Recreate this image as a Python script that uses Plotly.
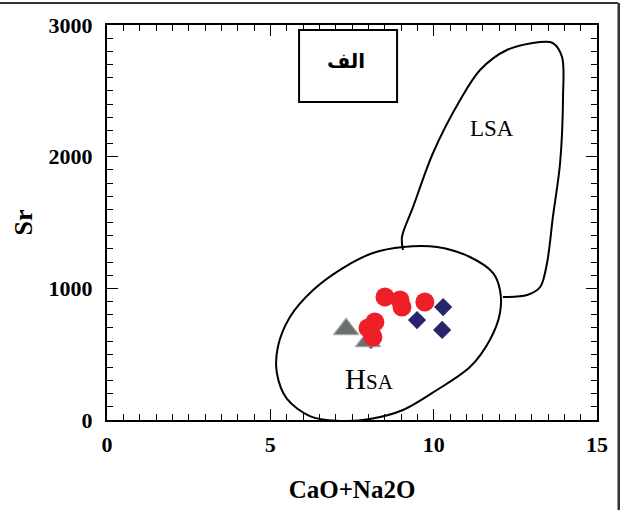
import plotly.graph_objects as go

# Sample compositions: CaO+Na2O (wt%) vs Sr (ppm)
circle_x = [8.51, 8.97, 9.03, 9.73, 8.20, 7.99, 8.14]
circle_y = [934, 911, 858, 896, 744, 699, 630]

diamond_x = [9.49, 10.29, 10.26, 8.08]
diamond_y = [759, 858, 684, 608]

triangle_x = [7.32, 7.99]
triangle_y = [690, 598]

# Field boundaries (HSA and LSA)
hsa_x = [9.06, 10.10, 11.11, 11.82, 12.03, 12.03, 11.72, 11.11, 10.10, 9.06,
         8.05, 7.04, 6.21, 5.51, 5.20, 5.23, 5.60, 6.31, 7.22, 8.14, 9.06]
hsa_y = [1314, 1314, 1238, 1116, 987, 813, 608, 402, 228, 76,
         8, -6, 30, 160, 357, 554, 782, 987, 1154, 1268, 1314]

lsa_x = [12.12, 12.86, 13.26, 13.47, 13.65, 13.87, 13.96, 13.93, 13.65, 13.26,
         12.24, 11.42, 10.81, 9.98, 9.37, 9.03, 9.06]
lsa_y = [934, 949, 1010, 1192, 1542, 1952, 2453, 2757, 2863, 2871,
         2810, 2658, 2430, 2028, 1618, 1390, 1291]

x_ticks = [0, 5, 10, 15]
y_ticks = [0, 1000, 2000, 3000]

serif = "Liberation Serif"

fig = go.Figure()

for fx, fy in ((hsa_x, hsa_y), (lsa_x, lsa_y)):
    fig.add_trace(go.Scatter(
        x=fx, y=fy, mode="lines",
        line=dict(color="black", width=2, shape="spline", smoothing=0.9),
        hoverinfo="skip", showlegend=False,
    ))

fig.add_trace(go.Scatter(
    x=diamond_x, y=diamond_y, mode="markers",
    marker=dict(symbol="diamond", size=14, color="#27266b", line=dict(width=0)),
    showlegend=False,
))
fig.add_trace(go.Scatter(
    x=triangle_x, y=triangle_y, mode="markers",
    marker=dict(symbol="triangle-up", size=22, color="#6a706f",
                line=dict(color="#a3a8a8", width=1.2)),
    showlegend=False,
))
fig.add_trace(go.Scatter(
    x=circle_x, y=circle_y, mode="markers",
    marker=dict(symbol="circle", size=19, color="#ee1f26", line=dict(width=0)),
    showlegend=False,
))

# Field labels
fig.add_annotation(x=11.79, y=2215, text="LSA", showarrow=False,
                   font=dict(family=serif, size=23, color="black"))
fig.add_annotation(x=8.05, y=311, text="<span style='font-size:29px'>H</span>SA",
                   showarrow=False, font=dict(family=serif, size=21, color="black"))

# Panel label inside a framed box
fig.add_shape(type="rect", xref="x", yref="y",
              x0=5.88, x1=8.88, y0=2415, y1=2962,
              line=dict(color="black", width=2), fillcolor="white", layer="above")
fig.add_annotation(x=7.33, y=2704, yshift=3, text="<b>الف</b>", showarrow=False,
                   font=dict(family="DejaVu Sans", size=20, color="black"))

# Partial outer frame (top and right edges)
fig.add_shape(type="line", xref="paper", yref="paper",
              x0=-0.2184, x1=1.0429, y0=1.0557, y1=1.0557,
              line=dict(color="#333333", width=2))
fig.add_shape(type="line", xref="paper", yref="paper",
              x0=1.0449, x1=1.0449, y0=1.0557, y1=-0.24,
              line=dict(color="#333333", width=3))

axis_common = dict(
    showgrid=False, zeroline=False,
    showline=True, linecolor="black", linewidth=2, mirror="allticks",
    ticks="inside", tickcolor="black", tickwidth=1.2, ticklen=11,
    tickfont=dict(family=serif, size=22, color="black", weight="bold"),
)

fig.update_xaxes(
    range=[0, 15], tickvals=x_ticks, ticktext=[str(v) for v in x_ticks],
    minor=dict(ticks="inside", dtick=0.5, ticklen=6, tickcolor="black", tickwidth=1.2),
    title=dict(text="<b>CaO+Na2O</b>", font=dict(family=serif, size=25, color="black"),
               standoff=24),
    ticklabelstandoff=4,
    **axis_common,
)
fig.update_yaxes(
    range=[0, 3000], tickvals=y_ticks, ticktext=[str(v) for v in y_ticks],
    minor=dict(ticks="inside", dtick=100, ticklen=6, tickcolor="black", tickwidth=1.2),
    title=dict(text="<b>Sr</b>", font=dict(family=serif, size=26, color="black"),
               standoff=8),
    ticklabelstandoff=8,
    **axis_common,
)

fig.update_layout(
    width=620, height=510,
    margin=dict(l=107, r=23, t=25, b=90),
    paper_bgcolor="white", plot_bgcolor="white",
    showlegend=False,
)

fig.write_html("out.html")
